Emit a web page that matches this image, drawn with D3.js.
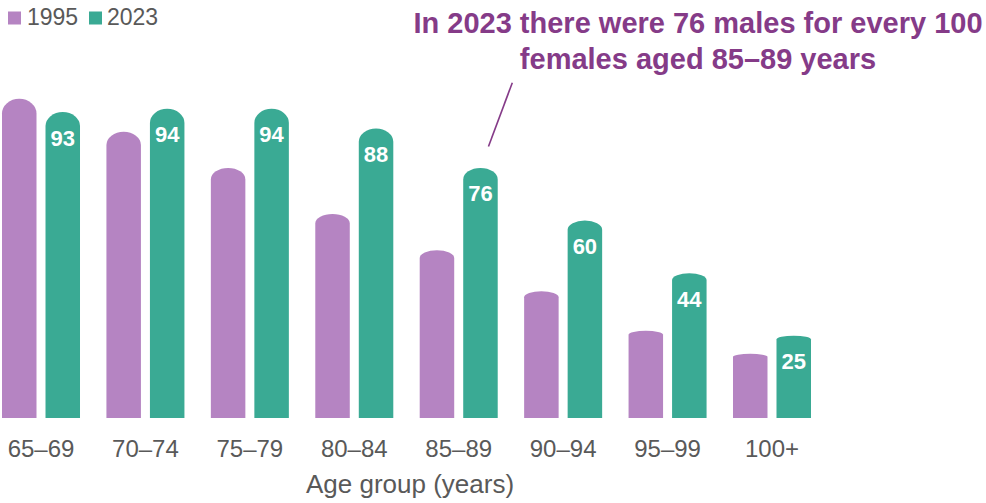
<!DOCTYPE html>
<html>
<head>
<meta charset="utf-8">
<script src="https://cdn.jsdelivr.net/npm/d3@7"></script>
<style>
  html, body { margin: 0; padding: 0; background: #fff; }
  svg { display: block; font-family: "Liberation Sans", Arial, sans-serif; }
</style>
</head>
<body>
<svg id="chart" width="986" height="503"></svg>
<script>
const categories = ["65–69", "70–74", "75–79", "80–84", "85–89", "90–94", "95–99", "100+"];
const seriesNames = ["1995", "2023"];
const values1995 = [97, 87, 76, 62, 51, 38.5, 26.5, 19.5];
const values2023 = [93, 94, 94, 88, 76, 60, 44, 25];
const annotationLines = ["In 2023 there were 76 males for every 100", "females aged 85–89 years"];
const xTitle = "Age group (years)";

const colors = { "1995": "#b584c2", "2023": "#3aaa94" };
const textGray = "#595959";
const annColor = "#853b88";

const svg = d3.select("#chart");

const step = 104.43;
const x0 = d3.scaleBand()
  .domain(categories)
  .range([2 - step * 0.1265, 811 + step * 0.1265])
  .paddingInner(0.253)
  .paddingOuter(0.1265);

const x1 = d3.scaleBand()
  .domain(seriesNames)
  .range([0, x0.bandwidth()])
  .paddingInner(0.207);

const y = d3.scaleLinear().domain([0, 100]).range([418, 89]);

const data = categories.map((c, i) => ({
  cat: c,
  vals: [
    { key: "1995", v: values1995[i] },
    { key: "2023", v: values2023[i] }
  ]
}));

function capPath(x, top, w, base) {
  const h = base - top;
  const rx = w / 2;
  const ry = Math.max(2, h * 0.046);
  return `M${x},${base} L${x},${top + ry} A${rx},${ry} 0 0 1 ${x + w},${top + ry} L${x + w},${base} Z`;
}

const groups = svg.append("g").selectAll("g")
  .data(data)
  .join("g")
  .attr("transform", d => `translate(${x0(d.cat)},0)`);

groups.selectAll("path")
  .data(d => d.vals)
  .join("path")
  .attr("d", d => capPath(x1(d.key), y(d.v), x1.bandwidth(), y(0)))
  .attr("fill", d => colors[d.key]);

groups.selectAll("text.val")
  .data(d => d.vals.filter(v => v.key === "2023"))
  .join("text")
  .attr("class", "val")
  .attr("x", d => x1(d.key) + x1.bandwidth() / 2)
  .attr("y", d => y(d.v) + 33.5)
  .attr("text-anchor", "middle")
  .attr("fill", "#fff")
  .attr("font-weight", "bold")
  .attr("font-size", 22)
  .text(d => d.v);

// x axis labels
const xAxis = d3.axisBottom(x0).tickSize(0).tickPadding(0);
const ax = svg.append("g").attr("transform", "translate(0,439)").call(xAxis);
ax.select(".domain").remove();
ax.selectAll("text")
  .attr("dy", 0)
  .attr("y", 18)
  .attr("font-size", 24)
  .attr("font-family", "Liberation Sans, Arial, sans-serif")
  .attr("fill", textGray);

svg.append("text")
  .attr("x", 410)
  .attr("y", 493)
  .attr("text-anchor", "middle")
  .attr("font-size", 26)
  .attr("fill", textGray)
  .text(xTitle);

// legend
const legendPos = [{ key: "1995", sx: 8, tx: 27 }, { key: "2023", sx: 89, tx: 107 }];
legendPos.forEach(l => {
  svg.append("rect").attr("x", l.sx).attr("y", 11.5).attr("width", 13).attr("height", 13).attr("fill", colors[l.key]);
  svg.append("text").attr("x", l.tx).attr("y", 25).attr("font-size", 23).attr("fill", textGray).text(l.key);
});

// annotation
svg.append("g").selectAll("text")
  .data(annotationLines)
  .join("text")
  .attr("x", 698)
  .attr("y", (d, i) => 33 + i * 36)
  .attr("text-anchor", "middle")
  .attr("font-size", 29)
  .attr("font-weight", "bold")
  .attr("fill", annColor)
  .text(d => d);

const targetX = x0("85–89") + x1("2023") + x1.bandwidth() / 2;
svg.append("line")
  .attr("x1", 512.3).attr("y1", 82.7)
  .attr("x2", targetX + 8).attr("y2", y(values2023[4]) - 21.5)
  .attr("stroke", annColor)
  .attr("stroke-width", 1.6);
</script>
</body>
</html>
